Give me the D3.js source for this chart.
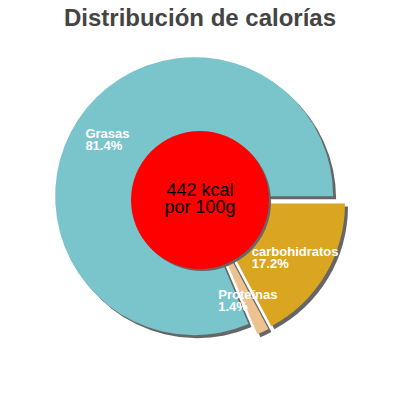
<!DOCTYPE html>
<html>
<head>
<meta charset="utf-8">
<script src="https://cdn.jsdelivr.net/npm/d3@7"></script>
<style>
  body { margin: 0; background: #fff; }
  text { font-family: "Liberation Sans", Arial, sans-serif; }
</style>
</head>
<body>
<svg id="chart" width="400" height="400"></svg>
<script>
var categories = ["carbohidratos", "Proteínas", "Grasas"];
var values = [17.2, 1.4, 81.4];
var labels = ["17.2%", "1.4%", "81.4%"];
var colors = ["#DAA520", "#EEC28E", "#7AC4CC"];
var centerLines = ["442 kcal", "por 100g"];

var width = 400, height = 400;
var cx = 200, cy = 200;
var radius = 139, explode = 7, holeRadius = 69;

var svg = d3.select("#chart");

svg.append("text")
  .attr("x", width / 2)
  .attr("y", 26)
  .attr("text-anchor", "middle")
  .style("font-size", "24px")
  .style("font-weight", "bold")
  .style("fill", "#444")
  .text("Distribución de calorías");

var data = categories.map(function(c, i) {
  return {name: c, value: values[i], label: labels[i], color: colors[i]};
});

var pie = d3.pie()
  .sort(null)
  .value(function(d) { return d.value; })
  .startAngle(Math.PI / 2)
  .endAngle(Math.PI / 2 + 2 * Math.PI);

var arc = d3.arc().innerRadius(0).outerRadius(radius);
var arcs = pie(data);

function offset(d, r) {
  var a = (d.startAngle + d.endAngle) / 2;
  return [Math.sin(a) * r, -Math.cos(a) * r];
}

var g = svg.append("g")
  .attr("transform", "translate(" + cx + "," + cy + ")");

// shadows
g.selectAll("path.shadow")
  .data(arcs)
  .enter().append("path")
  .attr("class", "shadow")
  .attr("d", arc)
  .attr("fill", "#666")
  .attr("transform", function(d) {
    var o = offset(d, explode);
    return "translate(" + (o[0] + 3) + "," + (o[1] + 3) + ")";
  });

g.selectAll("path.slice")
  .data(arcs)
  .enter().append("path")
  .attr("class", "slice")
  .attr("d", arc)
  .attr("fill", function(d) { return d.data.color; })
  .attr("transform", function(d) {
    var o = offset(d, explode);
    return "translate(" + o[0] + "," + o[1] + ")";
  });

// labels
arcs.forEach(function(d) {
  var p = offset(d, 104 + explode);
  var t = g.append("text")
    .style("font-size", "13px")
    .style("font-weight", "bold")
    .style("fill", "#fff");
  var l1 = t.append("tspan").text(d.data.name);
  var l2 = t.append("tspan").text(d.data.label);
  var w = Math.max(l1.node().getComputedTextLength(), l2.node().getComputedTextLength());
  var x0 = p[0] - w / 2;
  l1.attr("x", x0).attr("y", p[1] - 1);
  l2.attr("x", x0).attr("y", p[1] + 11);
});

// center circle
g.append("circle")
  .attr("cx", 2).attr("cy", 2)
  .attr("r", holeRadius)
  .attr("fill", "#666");
g.append("circle")
  .attr("r", holeRadius)
  .attr("fill", "#ff0000");

g.selectAll("text.center")
  .data(centerLines)
  .enter().append("text")
  .attr("class", "center")
  .attr("x", 0)
  .attr("y", function(d, i) { return -4 + i * 17; })
  .attr("text-anchor", "middle")
  .style("font-size", "18px")
  .style("fill", "#000")
  .text(function(d) { return d; });
</script>
</body>
</html>
